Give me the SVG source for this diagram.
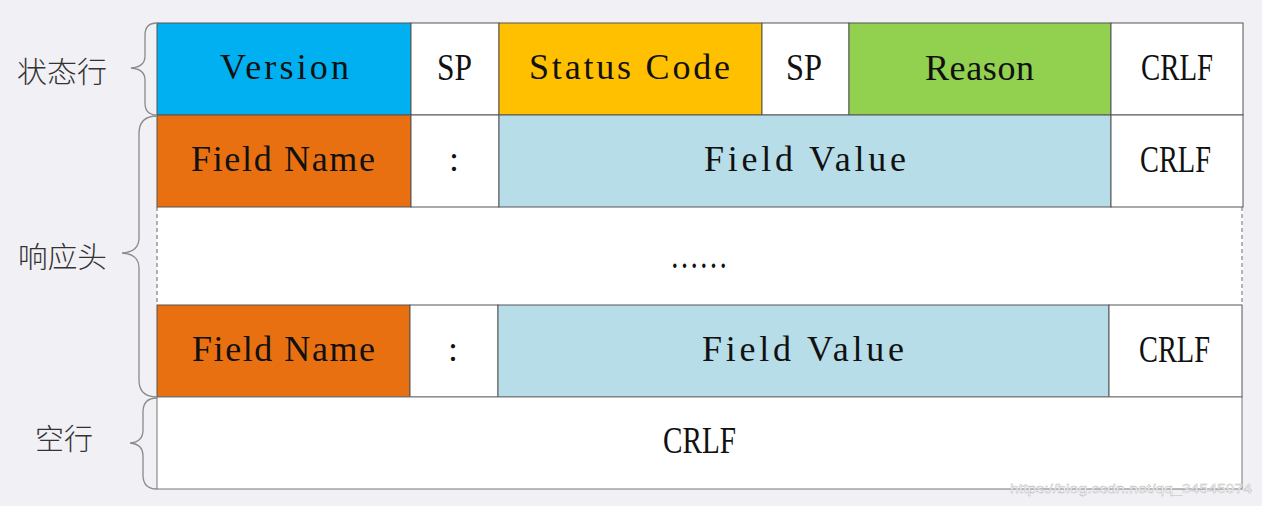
<svg xmlns="http://www.w3.org/2000/svg" width="1262" height="506" viewBox="0 0 1262 506">
<style>
.cell{stroke:#555;stroke-width:1}
.mono{font-family:"Liberation Serif","DejaVu Serif",serif;font-size:36px;fill:#111}
.ser{font-family:"Liberation Serif","DejaVu Serif",serif;font-size:38px;fill:#111}
.cjk{font-family:"Noto Sans CJK SC","Noto Sans CJK JP",sans-serif;font-size:29px;font-weight:300;fill:#333}
.brace{fill:none;stroke:#8a8a8a;stroke-width:1.3}
.dash{stroke:#666;stroke-width:1;stroke-dasharray:4 3}
</style>
<rect x="0" y="0" width="1262" height="506" fill="#f1f0f5"/>
<rect x="157" y="207" width="1086" height="98" fill="#fff"/>

<g id="version"><rect class="cell" x="157" y="23" width="254" height="92" fill="#00b0f0"/><text class="mono" x="220" y="79" textLength="129" lengthAdjust="spacing">Version</text></g>
<g id="sp1"><rect class="cell" x="411" y="23" width="88" height="92" fill="#fff"/><text class="ser" x="437" y="80" textLength="35" lengthAdjust="spacingAndGlyphs">SP</text></g>
<g id="status-code"><rect class="cell" x="499" y="23" width="263" height="92" fill="#ffc000"/><text class="mono" x="529" y="79" textLength="201" lengthAdjust="spacing">Status Code</text></g>
<g id="sp2"><rect class="cell" x="762" y="23" width="87" height="92" fill="#fff"/><text class="ser" x="786" y="80" textLength="36" lengthAdjust="spacingAndGlyphs">SP</text></g>
<g id="reason"><rect class="cell" x="849" y="23" width="262" height="92" fill="#92d050"/><text class="mono" x="925" y="80" textLength="109" lengthAdjust="spacing">Reason</text></g>
<g id="crlf1"><rect class="cell" x="1111" y="23" width="132" height="92" fill="#fff"/><text class="ser" x="1141" y="80" textLength="72" lengthAdjust="spacingAndGlyphs">CRLF</text></g>

<g id="field-name1"><rect class="cell" x="157" y="115" width="254" height="92" fill="#e97010"/><text class="mono" x="191" y="171" textLength="184" lengthAdjust="spacing">Field Name</text></g>
<g id="colon1"><rect class="cell" x="411" y="115" width="88" height="92" fill="#fff"/><text class="mono" x="454" y="171" text-anchor="middle">:</text></g>
<g id="field-value1"><rect class="cell" x="499" y="115" width="612" height="92" fill="#b7dde8"/><text class="mono" x="704" y="171" textLength="202" lengthAdjust="spacing">Field Value</text></g>
<g id="crlf2"><rect class="cell" x="1111" y="115" width="132" height="92" fill="#fff"/><text class="ser" x="1140" y="172" textLength="71" lengthAdjust="spacingAndGlyphs">CRLF</text></g>

<g id="ellipsis"><line class="dash" x1="157" y1="207" x2="157" y2="305"/><line class="dash" x1="1242" y1="207" x2="1242" y2="305"/><text class="ser" x="670" y="268" font-size="30" textLength="58" lengthAdjust="spacingAndGlyphs">……</text></g>

<g id="field-name2"><rect class="cell" x="157" y="305" width="253" height="92" fill="#e97010"/><text class="mono" x="192" y="361" textLength="183" lengthAdjust="spacing">Field Name</text></g>
<g id="colon2"><rect class="cell" x="410" y="305" width="88" height="92" fill="#fff"/><text class="mono" x="453" y="361" text-anchor="middle">:</text></g>
<g id="field-value2"><rect class="cell" x="498" y="305" width="611" height="92" fill="#b7dde8"/><text class="mono" x="702" y="361" textLength="202" lengthAdjust="spacing">Field Value</text></g>
<g id="crlf3"><rect class="cell" x="1109" y="305" width="133" height="92" fill="#fff"/><text class="ser" x="1139" y="362" textLength="71" lengthAdjust="spacingAndGlyphs">CRLF</text></g>

<g id="crlf-empty"><rect x="157" y="397" width="1085" height="92" fill="#fff" stroke="#777" stroke-width="1"/><text class="ser" x="663" y="453" textLength="73" lengthAdjust="spacingAndGlyphs">CRLF</text></g>

<g id="labels">
<text class="cjk" x="17" y="83" textLength="90" lengthAdjust="spacingAndGlyphs">状态行</text>
<text class="cjk" x="18" y="268" textLength="89" lengthAdjust="spacingAndGlyphs">响应头</text>
<text class="cjk" x="35" y="450" textLength="58" lengthAdjust="spacingAndGlyphs">空行</text>
</g>

<g id="connectors">
<path class="brace" d="M157,23 Q145,23 145,35 L145,56 Q145,67 131,68 Q145,69 145,80 L145,103 Q145,115 157,115"/>
<path class="brace" d="M157,116 Q139,116 139,134 L139,238 Q139,252 122,253 Q139,254 139,268 L139,380 Q139,397 157,397"/>
<path class="brace" d="M157,398 Q143,398 143,412 L143,430 Q143,442 130,443 Q143,444 143,456 L143,475 Q143,489 157,489"/>
</g>

<text x="1010" y="493" font-family="Liberation Sans,Arial,sans-serif" font-size="13" fill="#fff" stroke="#b8b8b8" stroke-width="0.4" textLength="242" lengthAdjust="spacingAndGlyphs">https://blog.csdn.net/qq_34545974</text>
</svg>
